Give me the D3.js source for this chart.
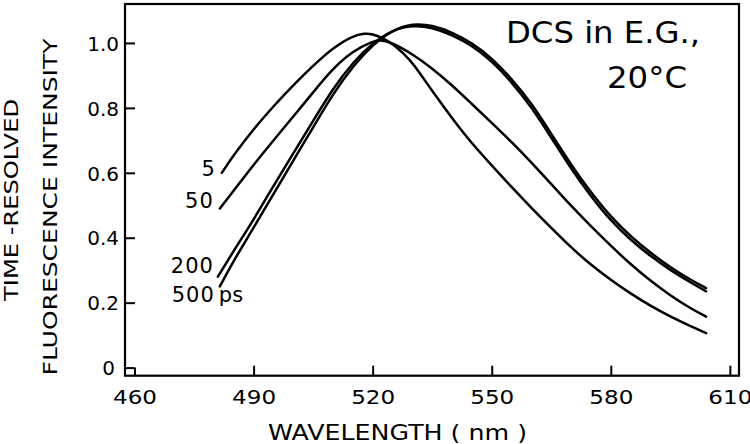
<!DOCTYPE html>
<html>
<head>
<meta charset="utf-8">
<script src="https://cdn.jsdelivr.net/npm/d3@7"></script>
<style>
  html, body { margin: 0; padding: 0; background: #fff; }
  svg { display: block; font-family: "DejaVu Sans", sans-serif; }
</style>
</head>
<body>
<svg id="chart" width="750" height="444"></svg>
<script>
// ---- data ----
const seriesNames = ["5", "50", "200", "500"];
const wl5   = [482, 485, 490, 495, 500, 505, 510, 515, 518, 520, 522, 525, 528, 530, 535, 540, 545, 550, 555, 560, 565, 570, 575, 580, 585, 590, 595, 600, 604];
const int5  = [0.600, 0.655, 0.735, 0.805, 0.870, 0.930, 0.985, 1.022, 1.030, 1.027, 1.018, 0.998, 0.965, 0.940, 0.852, 0.768, 0.690, 0.623, 0.556, 0.492, 0.430, 0.370, 0.316, 0.270, 0.228, 0.190, 0.157, 0.128, 0.106];
const wl50  = [481.5, 485, 490, 495, 500, 505, 510, 515, 520, 522, 525, 530, 535, 540, 545, 550, 555, 560, 565, 570, 575, 580, 585, 590, 595, 600, 604];
const int50 = [0.490, 0.545, 0.625, 0.700, 0.773, 0.848, 0.922, 0.975, 1.005, 1.010, 1.000, 0.966, 0.922, 0.870, 0.812, 0.754, 0.695, 0.632, 0.565, 0.498, 0.435, 0.375, 0.318, 0.267, 0.222, 0.183, 0.157];
const wl200  = [481, 485, 490, 495, 500, 505, 510, 515, 520, 525, 530, 535, 540, 545, 550, 555, 560, 565, 570, 575, 580, 585, 590, 595, 600, 604];
const int200 = [0.280, 0.360, 0.455, 0.560, 0.660, 0.760, 0.860, 0.940, 1.000, 1.040, 1.055, 1.048, 1.025, 0.992, 0.945, 0.880, 0.803, 0.708, 0.612, 0.527, 0.452, 0.393, 0.343, 0.300, 0.263, 0.235];
const wl500  = [481.5, 485, 490, 495, 500, 505, 510, 515, 520, 525, 530, 535, 540, 545, 550, 555, 560, 565, 570, 575, 580, 585, 590, 595, 600, 604];
const int500 = [0.250, 0.330, 0.430, 0.535, 0.638, 0.740, 0.843, 0.928, 0.995, 1.040, 1.060, 1.055, 1.033, 1.000, 0.954, 0.890, 0.815, 0.720, 0.624, 0.539, 0.464, 0.404, 0.353, 0.309, 0.271, 0.245];
const xTicks = [460, 490, 520, 550, 580, 610];
const yTicks = [0, 0.2, 0.4, 0.6, 0.8, 1.0];
const yTickLabels = ["0", "0.2", "0.4", "0.6", "0.8", "1.0"];
const xTitle = "WAVELENGTH ( nm )";
const yTitle1 = "TIME -RESOLVED";
const yTitle2 = "FLUORESCENCE  INTENSITY";
const note1 = "DCS in E.G.,";
const note2 = "20°C";
const unitLabel = "ps";

const series = [
  { name: seriesNames[0], wl: wl5, v: int5 },
  { name: seriesNames[1], wl: wl50, v: int50 },
  { name: seriesNames[2], wl: wl200, v: int200 },
  { name: seriesNames[3], wl: wl500, v: int500 }
].map(s => ({ name: s.name, pts: s.wl.map((w, i) => ({ w, v: s.v[i] })) }));

// ---- layout ----
const L = 125, R = 739, T = 4, B = 375.7;
const svg = d3.select("#chart");
const x = d3.scaleLinear().domain([457.6, 612.3]).range([L, R]);
const y = d3.scaleLinear().domain([-0.025, 1.120]).range([B, T]);

// frame
svg.append("rect")
  .attr("x", L).attr("y", T).attr("width", R - L).attr("height", B - T)
  .attr("fill", "none").attr("stroke", "#000").attr("stroke-width", 2.2);

// x axis ticks (inward) and labels
const xAxis = d3.axisBottom(x).tickValues(xTicks).tickSize(0).tickPadding(0).tickFormat(d3.format("d"));
const gx = svg.append("g").attr("transform", `translate(0,${B})`).call(xAxis);
gx.select(".domain").remove();
gx.selectAll(".tick line").attr("y2", d => d === 460 ? -(B - y(0)) : -10).attr("stroke", "#000").attr("stroke-width", 2);
gx.selectAll(".tick text")
  .attr("y", 28).attr("dy", 0)
  .attr("font-size", 20).attr("fill", "#000")
  .attr("font-family", "DejaVu Sans, sans-serif")
  .attr("textLength", 44).attr("lengthAdjust", "spacingAndGlyphs");

// y axis ticks (inward) and labels
const yAxis = d3.axisLeft(y).tickValues(yTicks).tickSize(0).tickPadding(0)
  .tickFormat((d, i) => yTickLabels[i]);
const gy = svg.append("g").attr("transform", `translate(${L},0)`).call(yAxis);
gy.select(".domain").remove();
gy.selectAll(".tick line").attr("x2", d => d === 0 ? (x(460) - L) : 10).attr("stroke", "#000").attr("stroke-width", 2);
gy.selectAll(".tick text")
  .attr("x", d => d === 0 ? -10 : -6).attr("dy", "0.36em")
  .attr("font-size", 20).attr("fill", "#000")
  .attr("font-family", "DejaVu Sans, sans-serif")
  .attr("text-anchor", "end");

// curves
const line = d3.line().x(d => x(d.w)).y(d => y(d.v)).curve(d3.curveBasis);
svg.append("g").selectAll("path").data(series).join("path")
  .attr("d", d => line(d.pts))
  .attr("fill", "none").attr("stroke", "#000").attr("stroke-width", 2.5)
  .attr("stroke-linecap", "round").attr("stroke-linejoin", "round");

// series labels at the start of each curve
const labDy = [3, -1, -4, 16];
const labDx = [-6, -6, -4, -5];
series.forEach((s, i) => {
  const p = s.pts[0];
  svg.append("text")
    .attr("x", x(p.w) + labDx[i]).attr("y", y(p.v) + labDy[i])
    .attr("text-anchor", "end").attr("font-size", 21).attr("fill", "#000")
    .attr("letter-spacing", 1)
    .text(s.name);
  if (i === series.length - 1) {
    svg.append("text")
      .attr("x", x(p.w) - 1).attr("y", y(p.v) + labDy[i])
      .attr("font-size", 21).attr("fill", "#000")
      .text(unitLabel);
  }
});

// annotation
svg.append("text").attr("x", 506).attr("y", 43).attr("font-size", 30).attr("fill", "#000")
  .attr("textLength", 194).attr("lengthAdjust", "spacingAndGlyphs").text(note1);
svg.append("text").attr("x", 607).attr("y", 88).attr("font-size", 30).attr("fill", "#000")
  .attr("textLength", 80).attr("lengthAdjust", "spacingAndGlyphs").text(note2);

// axis titles
svg.append("text").attr("x", 268).attr("y", 440).attr("font-size", 22).attr("fill", "#000")
  .attr("textLength", 259).attr("lengthAdjust", "spacingAndGlyphs").text(xTitle);
svg.append("text").attr("transform", "translate(18,200) rotate(-90)")
  .attr("text-anchor", "middle").attr("font-size", 19).attr("fill", "#000")
  .attr("textLength", 202).attr("lengthAdjust", "spacingAndGlyphs").text(yTitle1);
svg.append("text").attr("transform", "translate(57,207) rotate(-90)")
  .attr("text-anchor", "middle").attr("font-size", 20).attr("fill", "#000")
  .attr("textLength", 337).attr("lengthAdjust", "spacingAndGlyphs").text(yTitle2);
</script>
</body>
</html>
